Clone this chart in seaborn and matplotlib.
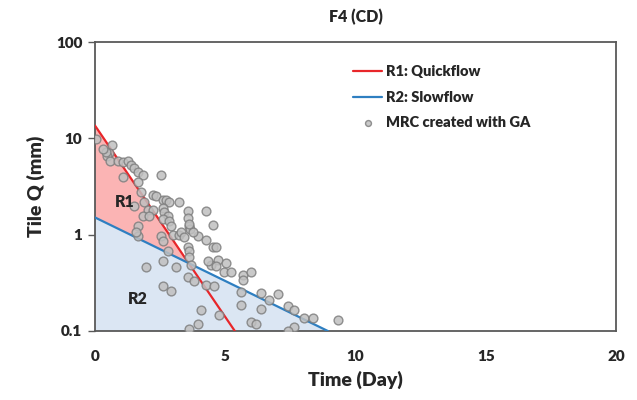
import matplotlib
matplotlib.use("Agg")
import matplotlib.pyplot as plt
import numpy as np
import pandas as pd
import seaborn as sns

# Recession line end points (day, Q)
r1_days = [0.0, 5.37]
r1_q = [13.6, 0.1]
r2_days = [0.0, 8.94]
r2_q = [1.51, 0.1]

# MRC points
mrc_days = [0.04, 0.64, 0.54, 0.46, 0.58, 0.87, 1.08, 1.26, 1.38, 1.50, 1.65, 1.84, 1.08, 2.53,
            1.65, 1.77, 2.23, 2.34, 2.61, 2.73, 2.84, 3.22, 1.88, 1.50, 2.03, 2.23, 2.61, 2.65,
            1.84, 2.07, 2.80, 3.56, 4.26, 3.56, 2.61, 2.84, 1.65, 2.92, 3.61, 3.66, 1.65, 2.53,
            2.99, 3.22, 3.96, 4.53, 1.58, 2.61, 3.30, 3.42, 3.56, 3.61, 4.26, 4.53, 4.65, 2.80,
            2.61, 1.95, 3.11, 3.61, 3.68, 4.46, 4.72, 4.65, 5.02, 4.95, 5.22, 5.68, 5.99, 5.68,
            3.56, 3.80, 4.26, 4.57, 2.61, 2.92, 6.37, 4.07, 5.60, 6.37, 4.76, 5.99, 6.18, 3.96,
            3.61, 7.02, 7.41, 7.63, 8.02, 8.37, 9.33, 7.63, 7.41, 5.60, 6.68, 4.33, 3.76, 0.42,
            0.30, 3.61]
mrc_q = [9.9, 8.6, 7.1, 6.5, 5.8, 5.8, 5.7, 5.8, 5.3, 4.9, 4.5, 4.2, 4.0, 4.2,
         3.5, 2.8, 2.6, 2.5, 2.3, 2.3, 2.2, 2.2, 2.2, 2.0, 1.8, 1.8, 1.9, 1.7,
         1.55, 1.55, 1.55, 1.75, 1.75, 1.5, 1.45, 1.4, 1.22, 1.22, 1.22, 1.14, 0.96, 0.96,
         1.0, 1.0, 0.96, 1.25, 1.06, 0.85, 1.06, 0.95, 0.75, 0.67, 0.89, 0.75, 0.75, 0.67,
         0.53, 0.46, 0.46, 0.58, 0.49, 0.49, 0.55, 0.47, 0.51, 0.41, 0.41, 0.38, 0.41, 0.34,
         0.36, 0.33, 0.30, 0.29, 0.29, 0.26, 0.25, 0.166, 0.187, 0.17, 0.147, 0.124, 0.118, 0.118,
         0.105, 0.24, 0.18, 0.166, 0.137, 0.137, 0.13, 0.11, 0.10, 0.257, 0.21, 0.53, 1.06, 7.2,
         7.8, 1.28]

lines = pd.DataFrame({
    "day": r1_days + r2_days,
    "q": r1_q + r2_q,
    "series": ["R1: Quickflow"] * 2 + ["R2: Slowflow"] * 2,
})
mrc = pd.DataFrame({"day": mrc_days, "q": mrc_q})

sns.set_style("white")
plt.rcParams["font.family"] = ["Lato", "DejaVu Sans"]
plt.rcParams["font.weight"] = "heavy"
W = "heavy"

fig = plt.figure(figsize=(6.37, 4.0), dpi=100)
ax = fig.add_axes([0.149, 0.1725, 0.818, 0.7225])
ax.set_yscale("log")

# intersection of the two lines in log space
a1 = np.polyfit(r1_days, np.log10(r1_q), 1)
a2 = np.polyfit(r2_days, np.log10(r2_q), 1)
x_int = (a2[1] - a1[1]) / (a1[0] - a2[0])
q_int = 10 ** (a1[0] * x_int + a1[1])

# shaded regions
ax.fill([0, x_int, 0], [r1_q[0], q_int, r2_q[0]], color="#fbb4b4", lw=0, zorder=1)
ax.fill([0, r2_days[1], 0], [r2_q[0], 0.1, 0.1], color="#dbe6f3", lw=0, zorder=1)

sns.lineplot(data=lines, x="day", y="q", hue="series", palette=["#e8262a", "#2e7fc1"],
             linewidth=1.6, ax=ax, zorder=3)
sns.scatterplot(data=mrc, x="day", y="q", color="#c0c0c0", edgecolor="#7f7f7f",
                linewidth=1.0, s=40, alpha=0.85, ax=ax, zorder=4, label="MRC created with GA")

ax.text(0.75, 1.95, "R1", fontsize=11.5, fontweight=W, color="#262626", zorder=5)
ax.text(1.25, 0.19, "R2", fontsize=11.5, fontweight=W, color="#262626", zorder=5)

ax.set_xlim(0, 20)
ax.set_ylim(0.1, 100)
ax.set_xticks([0, 5, 10, 15, 20])
ax.set_yticks([0.1, 1, 10, 100])
ax.set_yticklabels(["0.1", "1", "10", "100"])
ax.yaxis.set_minor_locator(matplotlib.ticker.NullLocator())
ax.tick_params(axis="y", left=True, length=5, width=1, color="#595959", labelsize=11, pad=4)
ax.tick_params(axis="x", bottom=False, labelsize=11, pad=10)
for lab in ax.get_xticklabels() + ax.get_yticklabels():
    lab.set_fontweight(W)

for sp in ax.spines.values():
    sp.set_color("#595959")
    sp.set_linewidth(1.3)
    sp.set_visible(True)

ax.set_xlabel("Time (Day)", fontsize=14, fontweight=W, labelpad=6)
ax.set_ylabel("Tile Q (mm)", fontsize=14, fontweight=W, labelpad=8)
ax.set_title("F4 (CD)", fontsize=11.5, fontweight=W, pad=14)

leg = ax.legend(loc="upper left", bbox_to_anchor=(0.47, 0.965), frameon=False,
                handlelength=2.0, handletextpad=0.3, labelspacing=0.85,
                prop={"weight": W, "size": 10.5})
for h in leg.legend_handles[2:]:
    h.set_sizes([18])

fig.savefig("out.png", dpi=100)
